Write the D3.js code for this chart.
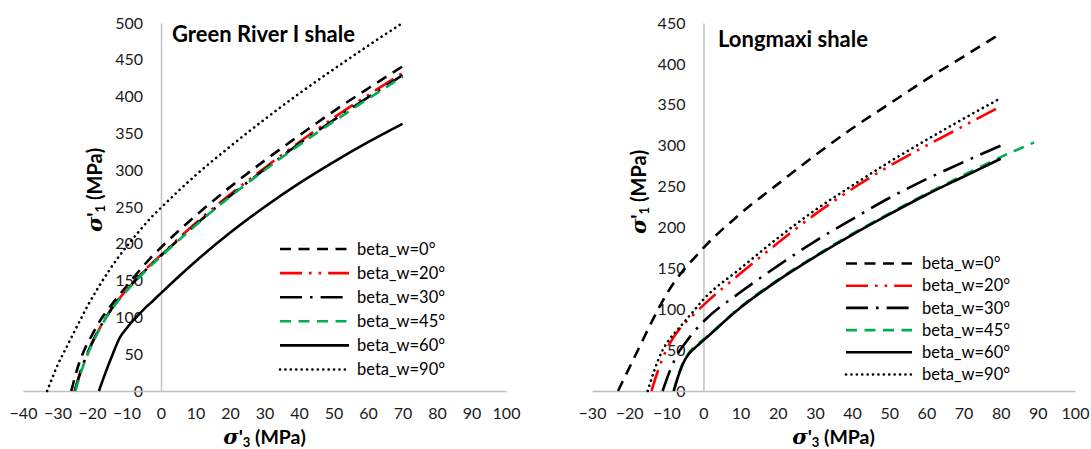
<!DOCTYPE html>
<html>
<head>
<meta charset="utf-8">
<script src="https://cdn.jsdelivr.net/npm/d3@7"></script>
<style>
  html, body { margin: 0; padding: 0; background: #fff; }
  svg { display: block; font-family: Lato, "Open Sans", sans-serif; }
</style>
</head>
<body>
<svg id="chart" width="1091" height="449"></svg>
<script>
// ---------- DATA ----------
const seriesNames = ["beta_w=0°", "beta_w=20°", "beta_w=30°", "beta_w=45°", "beta_w=60°", "beta_w=90°"];

// Green River I shale  [sigma'3, sigma'1]
const gr_b0  = [[-26,0],[-24,34],[-22,58],[-20,76],[-18,93],[-15,113],[-12,131],[-9,148],[-6,165],[-3,181],[0,195],[10,238],[20,277],[30,313],[40,347],[50,380],[60,411],[70,441]];
const gr_b20 = [[-25,0],[-23,30],[-21,54],[-19,74],[-17,92],[-15,107],[-12,126],[-9,143],[-6,158],[-3,172],[0,185],[10,228],[20,267],[30,303],[40,338],[50,371],[60,402],[70,432]];
const gr_b30 = [[-25,0],[-23,31],[-21,55],[-19,75],[-17,92],[-15,107],[-12,126],[-9,142],[-6,157],[-3,171],[0,184],[10,226],[20,265],[30,301],[40,336],[50,368],[60,399],[70,429]];
const gr_b45 = [[-24.8,0],[-23,28],[-21,53],[-19,73],[-17,91],[-15,106],[-12,125],[-9,141],[-6,156],[-3,170],[0,183],[10,225],[20,264],[30,300],[40,334],[50,366],[60,397],[70,427]];
const gr_b60 = [[-18,0],[-16,26],[-14,50],[-12,72],[-10,85],[-8,96],[-5,111],[-2,124],[0,133],[10,176],[20,215],[30,250],[40,282],[50,311],[60,338],[70,363]];
const gr_b90 = [[-33,0],[-30,35],[-27,63],[-24,91],[-21,118],[-18,142],[-15,164],[-12,184],[-9,202],[-6,219],[-3,235],[0,249],[10,293],[20,332],[30,369],[40,404],[50,437],[60,469],[70,500]];

// Longmaxi shale
const lm_b0  = [[-23,0],[-20,28],[-17,56],[-14,84],[-11,110],[-8,132],[-5,150],[-2,165],[0,175],[10,217],[20,253],[30,288],[40,321],[50,351],[60,381],[70,409],[80,437]];
const lm_b20 = [[-14,0],[-12,28],[-10,50],[-8,66],[-6,78],[-3,92],[0,105],[10,144],[20,181],[30,216],[40,247],[50,275],[60,300],[70,324],[80,348]];
const lm_b30 = [[-11,0],[-9,25],[-7,45],[-5,58],[-3,70],[0,85],[10,121],[20,153],[30,183],[40,210],[50,236],[60,259],[70,280],[80,300]];
const lm_b45 = [[-8,0],[-6.5,23],[-5,39],[-4,46],[-2,56],[0,63],[10,103],[20,136],[30,165],[40,192],[50,217],[60,241],[70,264],[80,286],[89,304]];
const lm_b60 = [[-8,0],[-6.5,22],[-5,38],[-4,45],[-2,54],[0,62],[10,102],[20,135],[30,164],[40,191],[50,216],[60,240],[70,262],[80,284]];
const lm_b90 = [[-15,0],[-13,28],[-11,50],[-9,64],[-6,80],[-3,96],[0,112],[10,150],[20,187],[30,221],[40,251],[50,280],[60,307],[70,333],[80,358]];

const grXTicks = [-40,-30,-20,-10,0,10,20,30,40,50,60,70,80,90,100];
const grYTicks = [0,50,100,150,200,250,300,350,400,450,500];
const lmXTicks = [-30,-20,-10,0,10,20,30,40,50,60,70,80,90,100];
const lmYTicks = [0,50,100,150,200,250,300,350,400,450];

// ---------- STYLES ----------
const styles = [
  { color: "#000000", dash: "11,7.5", cap: "butt" },
  { color: "#FF0000", dash: "22,7,2.6,7,2.6,7", cap: "butt" },
  { color: "#000000", dash: "22,8,2.6,8", cap: "butt" },
  { color: "#00B050", dash: "11,7.5", cap: "butt" },
  { color: "#000000", dash: null, cap: "butt" },
  { color: "#000000", dash: "0.1,5.3", cap: "round" }
];
const LW = 2.6;

const svg = d3.select("#chart");

function axisTitle(sel, sub) {
  sel.append("tspan").attr("font-style", "italic").attr("font-family", "DejaVu Serif").attr("font-size", 21).text("σ");
  sel.append("tspan").text("'");
  sel.append("tspan").attr("font-size", 13).attr("dy", 3).text(sub);
  sel.append("tspan").attr("dy", -3).text(" (MPa)");
}

function drawChart(cfg) {
  const x = d3.scaleLinear().domain(cfg.xDomain).range(cfg.xRange);
  const y = d3.scaleLinear().domain(cfg.yDomain).range(cfg.yRange);
  const g = svg.append("g");

  const yAxis = d3.axisLeft(y).tickValues(cfg.yTicks).tickSize(0).tickSizeOuter(0).tickPadding(18);
  const ya = g.append("g").attr("transform", `translate(${x(0)},0)`).call(yAxis);
  const xAxis = d3.axisBottom(x).tickValues(cfg.xTicks).tickSize(0).tickSizeOuter(0).tickPadding(17);
  const xa = g.append("g").attr("transform", `translate(0,${y(0)})`).call(xAxis);
  [ya, xa].forEach(a => {
    a.select(".domain").attr("stroke", "#BFBFBF").attr("stroke-width", 1.4);
    a.selectAll("text").attr("font-size", 16).attr("fill", "#1a1a1a").attr("font-family", "Lato");
  });

  const line = d3.line().x(d => x(d[0])).y(d => y(d[1])).curve(d3.curveMonotoneX);
  cfg.series.forEach((s, i) => {
    const st = styles[i];
    g.append("path").datum(s)
      .attr("d", line)
      .attr("fill", "none")
      .attr("stroke", st.color)
      .attr("stroke-width", LW)
      .attr("stroke-dasharray", st.dash)
      .attr("stroke-linecap", st.cap);
  });

  g.append("text").attr("x", cfg.titleX).attr("y", cfg.titleY)
    .attr("font-size", 22).attr("font-weight", "bold").attr("fill", "#000")
    .text(cfg.title);

  const xt = g.append("text")
    .attr("x", (cfg.xRange[0] + cfg.xRange[1]) / 2).attr("y", 444)
    .attr("text-anchor", "middle").attr("font-size", 19.5).attr("font-weight", "bold").attr("fill", "#000");
  axisTitle(xt, "3");

  const yt = g.append("text")
    .attr("transform", `translate(${cfg.yTitleX},${cfg.yTitleY}) rotate(-90)`)
    .attr("text-anchor", "middle").attr("font-size", 20).attr("font-weight", "bold").attr("fill", "#000");
  axisTitle(yt, "1");

  seriesNames.forEach((name, i) => {
    const st = styles[i];
    const ly = cfg.legY + i * cfg.legStep;
    g.append("line")
      .attr("x1", cfg.legX1).attr("x2", cfg.legX2).attr("y1", ly).attr("y2", ly)
      .attr("stroke", st.color).attr("stroke-width", LW)
      .attr("stroke-dasharray", st.dash).attr("stroke-linecap", st.cap);
    g.append("text").attr("x", cfg.legTextX).attr("y", ly).attr("dy", "0.35em")
      .attr("font-size", 16.5).attr("fill", "#000").text(name);
  });
}

drawChart({
  xDomain: [-40, 100], xRange: [23, 506],
  yDomain: [0, 500], yRange: [391, 23],
  xTicks: grXTicks, yTicks: grYTicks,
  series: [gr_b0, gr_b20, gr_b30, gr_b45, gr_b60, gr_b90],
  title: "Green River I shale", titleX: 172, titleY: 42,
  yTitleX: 102, yTitleY: 190,
  legX1: 280, legX2: 349, legTextX: 357, legY: 249, legStep: 24.1
});

drawChart({
  xDomain: [-30, 100], xRange: [592, 1075],
  yDomain: [0, 450], yRange: [391, 23],
  xTicks: lmXTicks, yTicks: lmYTicks,
  series: [lm_b0, lm_b20, lm_b30, lm_b45, lm_b60, lm_b90],
  title: "Longmaxi shale", titleX: 718, titleY: 47,
  yTitleX: 646, yTitleY: 192,
  legX1: 846, legX2: 912, legTextX: 922, legY: 263.5, legStep: 22.2
});
</script>
</body>
</html>
